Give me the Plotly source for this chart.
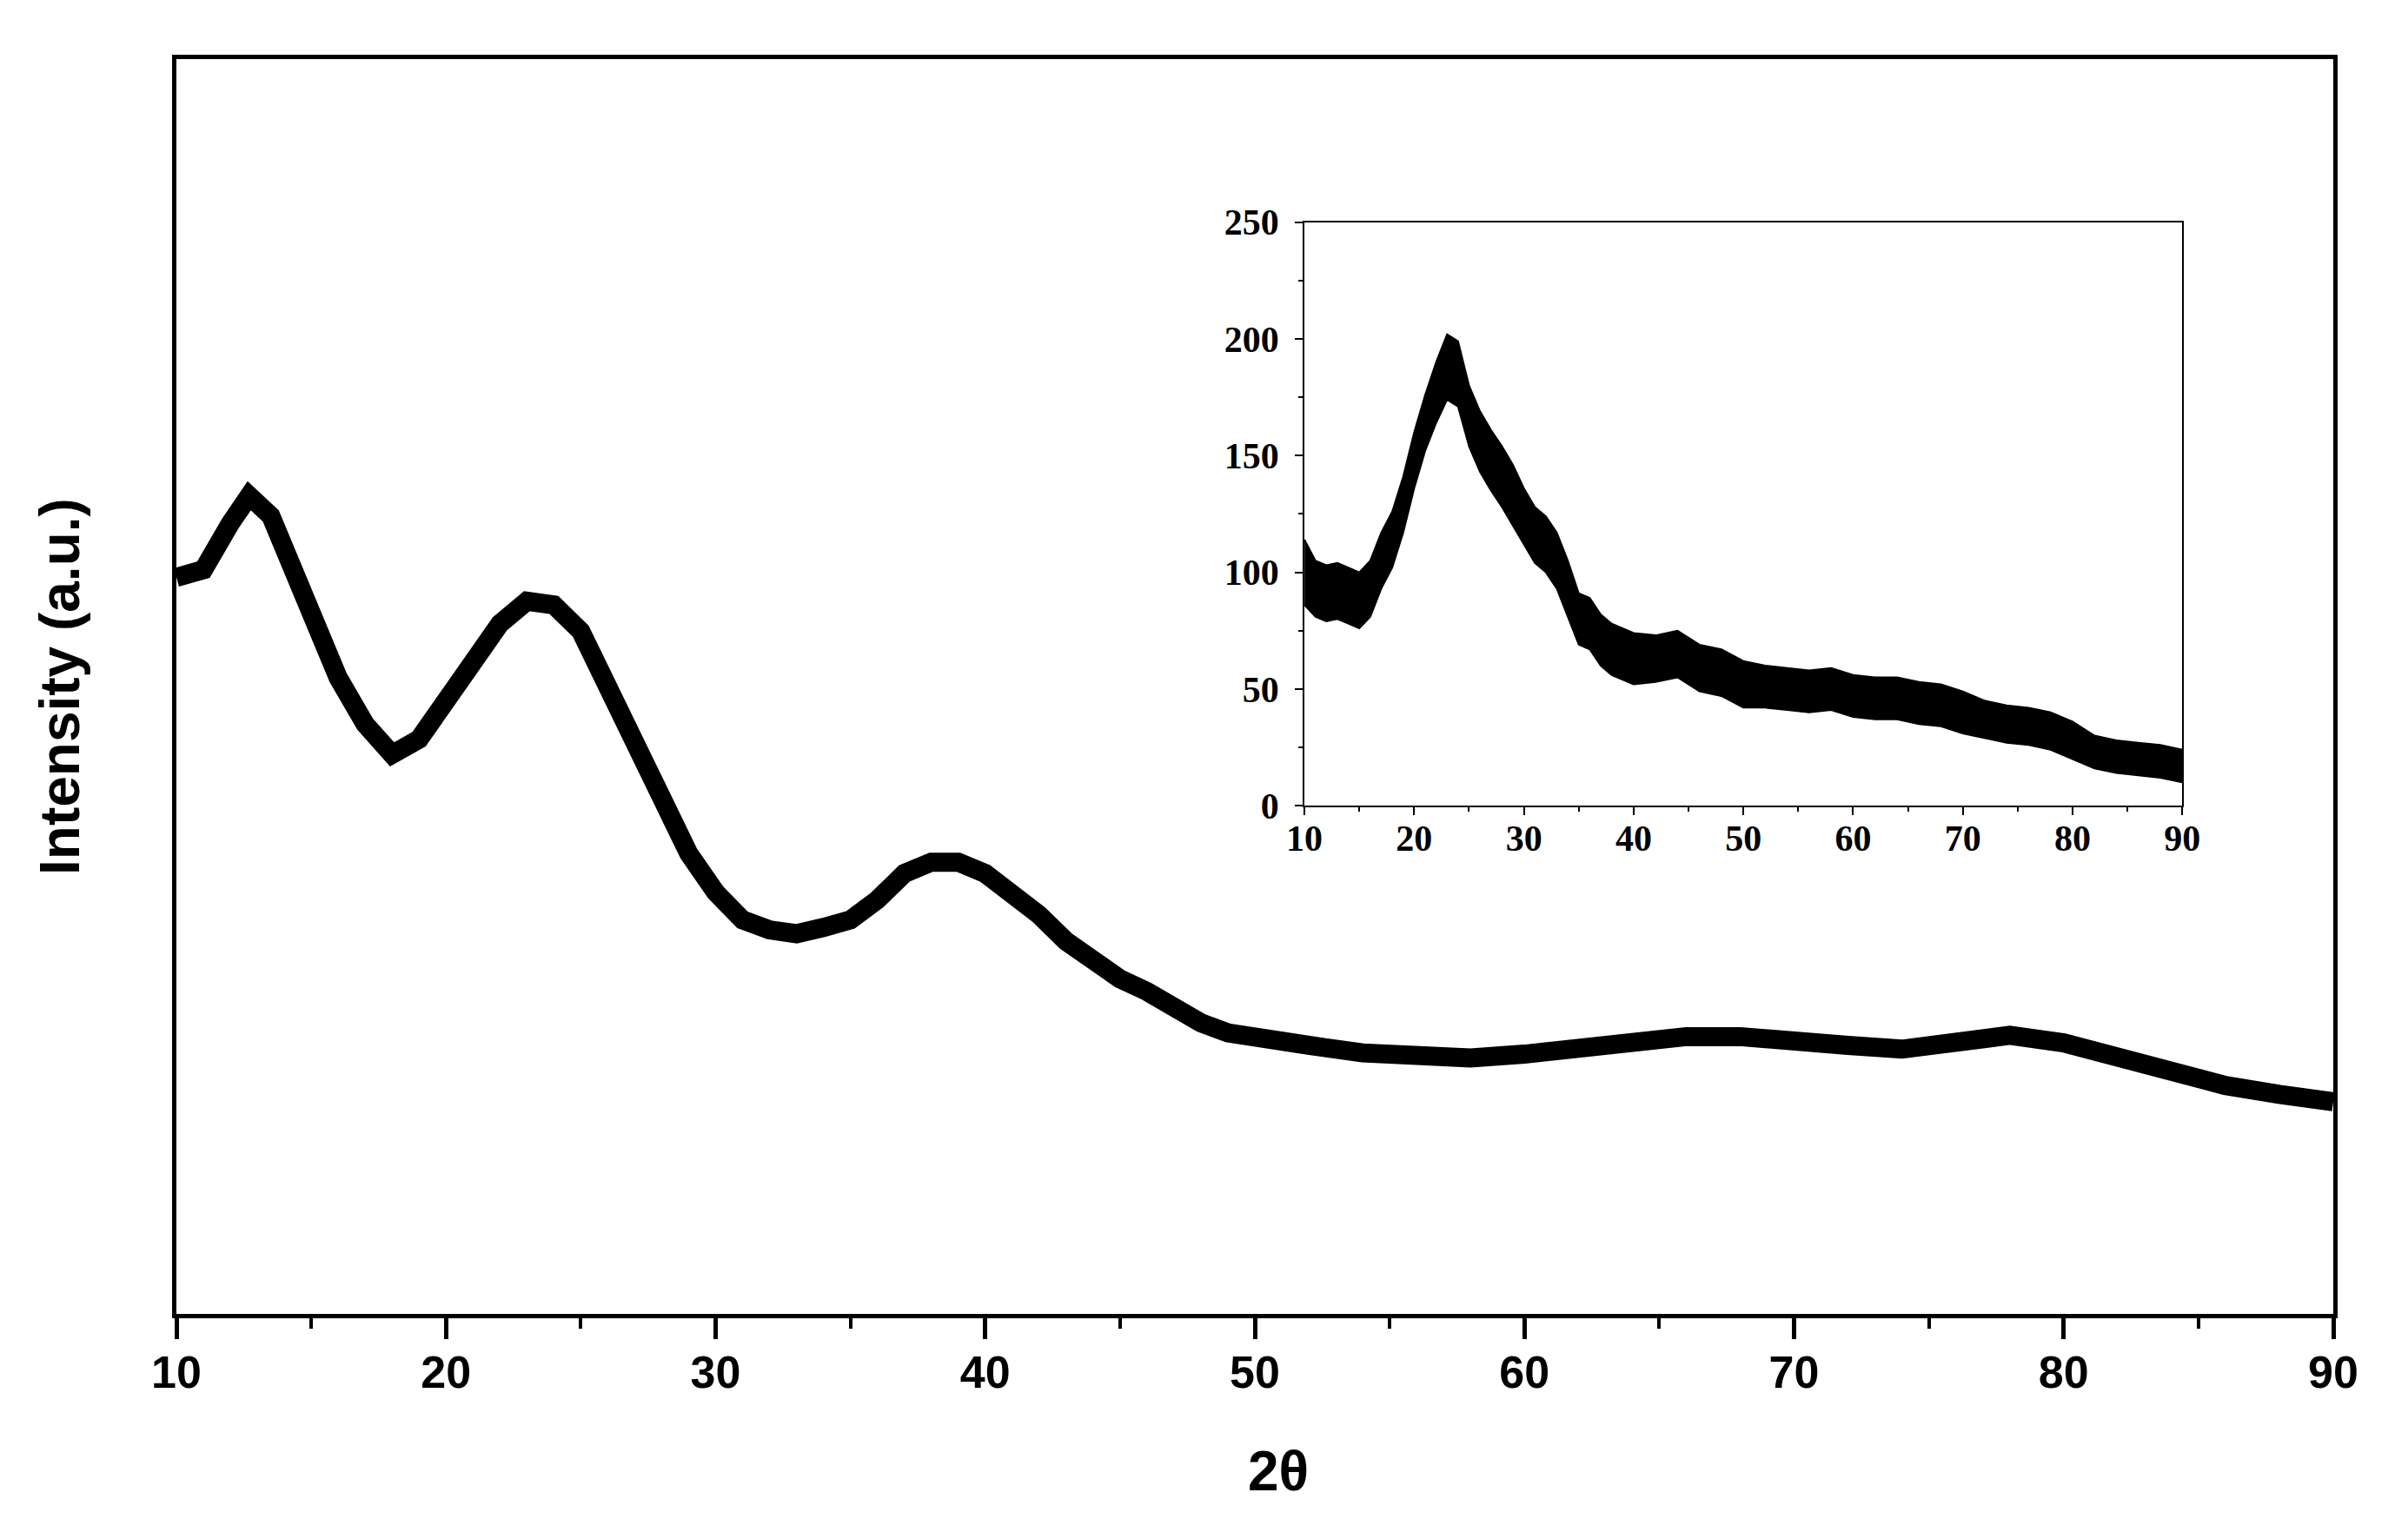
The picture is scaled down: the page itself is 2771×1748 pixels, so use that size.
import plotly.graph_objects as go

# Main XRD pattern (arbitrary intensity units)
main_2theta = [10, 11, 12, 12.7, 13.5, 14, 15, 16, 17, 18, 19, 20, 21, 22, 23, 24, 25, 26, 27, 28,
               29, 30, 31, 32, 33, 34, 35, 36, 37, 38, 39, 40, 41, 42, 43, 44, 45, 46, 47, 48,
               49, 50, 52, 54, 56, 58, 60, 62, 64, 66, 68, 70, 72, 74, 76, 78, 80, 82, 84, 86, 88, 90]
main_intensity = [58.7, 59.3, 63.0, 65.2, 63.6, 61.0, 55.6, 50.7, 47.0, 44.6, 45.8, 48.9, 52.0, 55.0,
                  56.8, 56.5, 54.4, 50.1, 45.8, 41.0, 36.7, 33.6, 31.4, 30.6, 30.3, 30.8, 31.4, 33.0,
                  35.1, 36.0, 36.0, 35.1, 33.6, 31.8, 29.7, 28.1, 26.7, 25.7, 24.4, 23.2, 22.4, 22.0,
                  21.4, 20.8, 20.5, 20.4, 20.7, 21.1, 21.8, 22.1, 22.1, 21.9, 21.4, 21.1, 21.6, 22.2,
                  21.6, 20.4, 19.2, 18.2, 17.5, 16.9]

# Inset pattern: band centre and half-width of the noise band
inset_2theta = [10, 11, 12, 13, 14, 15, 16, 17, 18, 19, 20, 21, 22, 23, 24, 25, 26, 27, 28, 29,
                30, 31, 32, 33, 34, 35, 36, 37, 38, 39, 40, 42, 44, 46, 48, 50, 52, 54, 56, 58,
                60, 62, 64, 66, 68, 70, 72, 74, 76, 78, 80, 82, 84, 86, 88, 90]
inset_center = [100, 93, 91, 92, 90, 88, 93, 105, 114, 129, 148, 164, 177, 188, 185, 167, 156, 148,
                141, 133, 124, 116, 112, 105, 93, 80, 78, 71, 67, 65, 63, 63, 65, 59, 57, 52, 51,
                50, 49, 50, 47, 46, 46, 44, 43, 40, 37, 35, 34, 32, 28, 23, 21, 20, 19, 17]
inset_halfwidth = [14, 12, 12, 12, 12, 12, 12, 12, 12, 12, 12, 12, 13, 14, 14, 13, 13, 13, 13, 13,
                   12, 12, 12, 12, 12, 11, 11, 11, 11, 11, 11, 10, 10, 10, 10, 10, 9, 9, 9, 9,
                   9, 9, 9, 9, 9, 9, 8, 8, 8, 8, 8, 7, 7, 7, 7, 7]

x_ticks = [10, 20, 30, 40, 50, 60, 70, 80, 90]
inset_y_ticks = [0, 50, 100, 150, 200, 250]

inset_upper = [c + h for c, h in zip(inset_center, inset_halfwidth)]
inset_lower = [c - h for c, h in zip(inset_center, inset_halfwidth)]

fig = go.Figure()

fig.add_trace(go.Scatter(x=main_2theta, y=main_intensity, mode="lines",
                         line=dict(color="black", width=22), showlegend=False,
                         xaxis="x", yaxis="y"))

fig.add_trace(go.Scatter(x=inset_2theta, y=inset_lower, mode="lines",
                         line=dict(color="black", width=2), showlegend=False,
                         xaxis="x2", yaxis="y2"))
fig.add_trace(go.Scatter(x=inset_2theta, y=inset_upper, mode="lines",
                         line=dict(color="black", width=2), fill="tonexty",
                         fillcolor="black", showlegend=False,
                         xaxis="x2", yaxis="y2"))

sans = "Liberation Sans, Arial, sans-serif"
main_font = dict(family=sans, size=52, color="black")
inset_font = dict(family="Liberation Serif, Times New Roman, serif", size=42, color="black")

fig.update_layout(
    width=2771, height=1748,
    margin=dict(l=195, r=94, t=60, b=244),
    paper_bgcolor="white", plot_bgcolor="white",
    xaxis=dict(domain=[0, 1], range=[10, 90], tickvals=x_ticks,
               ticktext=[f"<b>{v}</b>" for v in x_ticks],
               ticks="outside", ticklen=24, tickwidth=5, tickcolor="black",
               ticklabelstandoff=-6,
               minor=dict(dtick=5, tick0=10, ticks="outside", ticklen=12, tickwidth=4, tickcolor="black"),
               showline=True, linewidth=5, linecolor="black", mirror=True,
               showgrid=False, zeroline=False, tickfont=main_font),
    yaxis=dict(domain=[0, 1], range=[0, 100], showticklabels=False, ticks="",
               showline=True, linewidth=5, linecolor="black", mirror=True,
               showgrid=False, zeroline=False),
    xaxis2=dict(domain=[0.523, 0.930], anchor="y2", range=[10, 90], tickvals=x_ticks,
                ticktext=[f"<b>{v}</b>" for v in x_ticks],
                ticks="outside", ticklen=9, tickwidth=2, tickcolor="black",
                ticklabelstandoff=-10,
                minor=dict(dtick=5, tick0=10, ticks="outside", ticklen=5, tickwidth=2, tickcolor="black"),
                showline=True, linewidth=2, linecolor="black", mirror=True,
                showgrid=False, zeroline=False, tickfont=inset_font),
    yaxis2=dict(domain=[0.405, 0.870], anchor="x2", range=[0, 250], tickvals=inset_y_ticks,
                ticktext=[f"<b>{v}</b>" for v in inset_y_ticks],
                ticks="outside", ticklen=9, tickwidth=2, tickcolor="black",
                ticklabelstandoff=10,
                minor=dict(dtick=25, tick0=0, ticks="outside", ticklen=5, tickwidth=2, tickcolor="black"),
                showline=True, linewidth=2, linecolor="black", mirror=True,
                showgrid=False, zeroline=False, tickfont=inset_font),
    annotations=[
        dict(text="<b>Intensity (a.u.)</b>", xref="paper", yref="paper", x=-0.054, y=0.50,
             textangle=-90, showarrow=False, font=dict(family=sans, size=64, color="black"),
             xanchor="center", yanchor="middle"),
        dict(text="<b>2θ</b>", xref="paper", yref="paper", x=0.511, y=-0.125,
             showarrow=False, font=dict(family=sans, size=64, color="black"),
             xanchor="center", yanchor="middle"),
    ],
)

fig.write_html("out.html")
